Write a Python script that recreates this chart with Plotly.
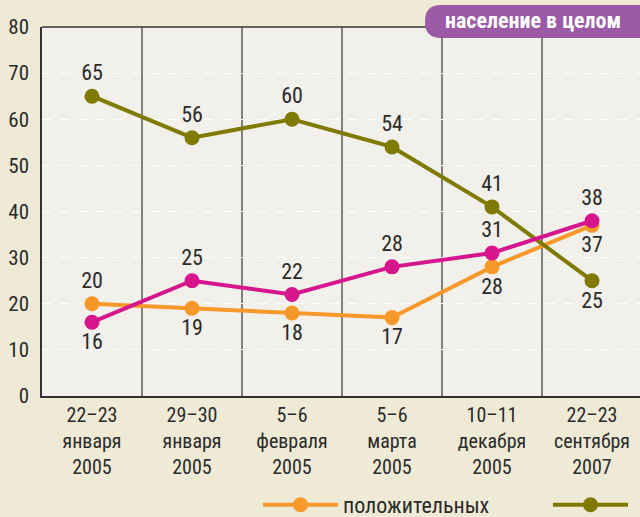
import plotly.graph_objects as go

categories = [
    "22–23<br>января<br>2005",
    "29–30<br>января<br>2005",
    "5–6<br>февраля<br>2005",
    "5–6<br>марта<br>2005",
    "10–11<br>декабря<br>2005",
    "22–23<br>сентября<br>2007",
]
positive = [20, 19, 18, 17, 28, 37]
magenta_vals = [16, 25, 22, 28, 31, 38]
olive_vals = [65, 56, 60, 54, 41, 25]

positive_pos = ["top center", "bottom center", "bottom center", "bottom center", "bottom center", "bottom center"]
magenta_pos = ["bottom center", "top center", "top center", "top center", "top center", "top center"]
olive_pos = ["top center"] * 5 + ["bottom center"]

FONT = "Liberation Sans Narrow, Roboto Condensed, Arial Narrow, Roboto, sans-serif"
ORANGE = "#F7982A"
MAGENTA = "#D6168C"
OLIVE = "#7F7A00"
TEXT = "#2b2b2b"

x = list(range(len(categories)))

# plot area in pixels: left 42, right 640, top 27, bottom 396
L, R, T, B = 42, 640, 27, 396


def px(xp):
    return (xp - L) / (R - L)


def py(yp):
    return (B - yp) / (B - T)


fig = go.Figure()
fig.add_trace(go.Scatter(
    x=x, y=positive, name="положительных", mode="lines+markers+text",
    text=[str(v) for v in positive], textposition=positive_pos,
    line=dict(color=ORANGE, width=4), marker=dict(color=ORANGE, size=15),
    textfont=dict(size=22, color=TEXT, family=FONT), cliponaxis=False,
    legend="legend",
))
fig.add_trace(go.Scatter(
    x=x, y=olive_vals, name="", mode="lines+markers+text",
    text=[str(v) for v in olive_vals], textposition=olive_pos,
    line=dict(color=OLIVE, width=4), marker=dict(color=OLIVE, size=15),
    textfont=dict(size=22, color=TEXT, family=FONT), cliponaxis=False,
    legend="legend2",
))
fig.add_trace(go.Scatter(
    x=x, y=magenta_vals, name="", mode="lines+markers+text", showlegend=False,
    text=[str(v) for v in magenta_vals], textposition=magenta_pos,
    line=dict(color=MAGENTA, width=4), marker=dict(color=MAGENTA, size=15),
    textfont=dict(size=22, color=TEXT, family=FONT), cliponaxis=False,
))

shapes = []
for b in [0.5, 1.5, 2.5, 3.5, 4.5]:
    shapes.append(dict(type="line", xref="x", yref="paper", x0=b, x1=b, y0=0, y1=1,
                       line=dict(color="#111111", width=1), layer="below"))
shapes.append(dict(type="line", xref="paper", yref="paper", x0=0, x1=1, y0=1, y1=1,
                   line=dict(color="#333333", width=1.5)))

# rounded badge
bx0, bx1, by0, by1, r = 425, 646, 5, 38, 16
path = (
    f"M {px(bx0 + r)} {py(by0)} L {px(bx1)} {py(by0)} L {px(bx1)} {py(by1)} "
    f"L {px(bx0 + r)} {py(by1)} Q {px(bx0)} {py(by1)} {px(bx0)} {py(by1 - r)} "
    f"L {px(bx0)} {py(by0 + r)} Q {px(bx0)} {py(by0)} {px(bx0 + r)} {py(by0)} Z"
)
shapes.append(dict(type="path", xref="paper", yref="paper", path=path,
                   fillcolor="#9B59A6", line=dict(width=0), layer="above"))

legend_common = dict(
    orientation="h", yanchor="middle", bgcolor="rgba(0,0,0,0)",
    font=dict(size=22, color=TEXT), itemwidth=75,
)

fig.update_layout(
    width=640, height=517,
    margin=dict(l=L, r=0, t=T, b=517 - B, autoexpand=False),
    paper_bgcolor="#EFEAD6",
    plot_bgcolor="#F2F0EA",
    font=dict(family=FONT, color=TEXT),
    shapes=shapes,
    annotations=[dict(
        text="<b>население в целом</b>", xref="paper", yref="paper",
        x=px(533), y=py(21), xanchor="center", yanchor="middle", showarrow=False,
        font=dict(size=22, color="white", family=FONT),
    )],
    xaxis=dict(
        range=[-0.5, 5.48], tickmode="array", tickvals=x, ticktext=categories,
        showgrid=False, zeroline=False, showline=True, linecolor="#333333", linewidth=1.5,
        ticks="", tickfont=dict(size=20, color=TEXT), automargin=False,
    ),
    yaxis=dict(
        range=[0, 80], dtick=10, showgrid=True, gridcolor="white", griddash="dash",
        gridwidth=1, zeroline=False, showline=True, linecolor="#333333", linewidth=1.5,
        ticks="", ticklabelstandoff=7, tickfont=dict(size=21, color=TEXT), automargin=False,
    ),
    showlegend=True,
    legend=dict(x=px(258), xanchor="left", y=py(505), **legend_common),
    legend2=dict(x=px(548), xanchor="left", y=py(505), **legend_common),
)

fig.write_html(
    "out.html",
    config={"displayModeBar": False},
    post_script="document.body.style.margin='0';document.body.style.background='#EFEAD6';",
)
